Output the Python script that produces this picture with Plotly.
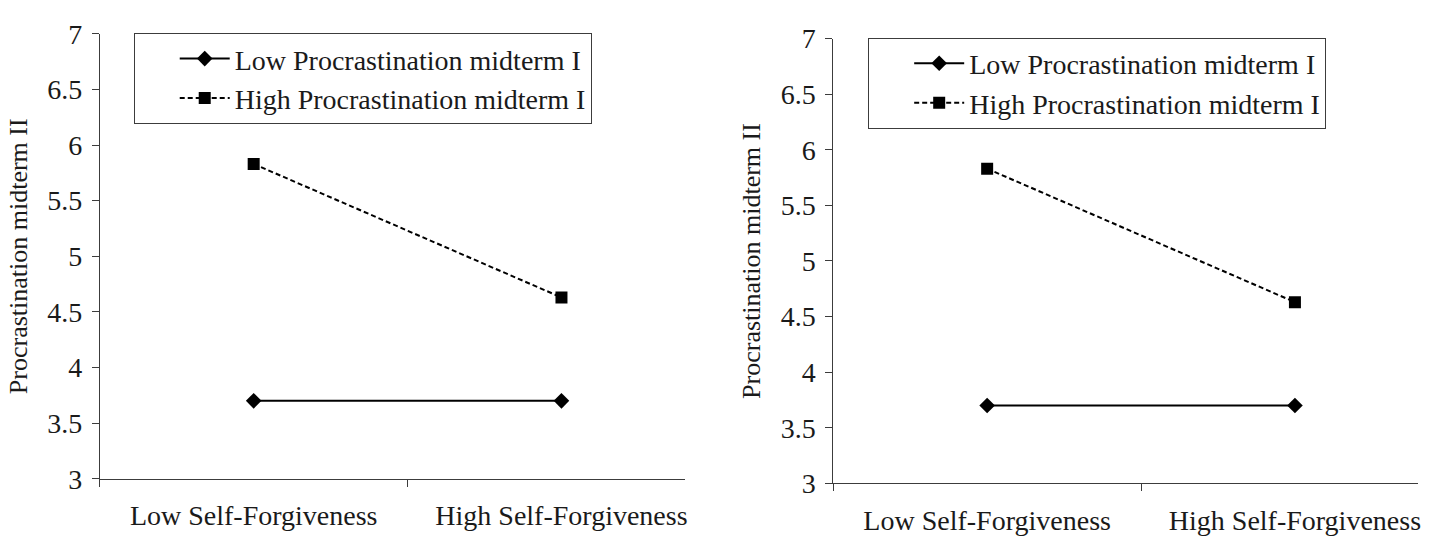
import plotly.graph_objects as go

# ---- data ----
categories = ["Low Self-Forgiveness", "High Self-Forgiveness"]
low_proc = [3.70, 3.70]
high_proc = [5.83, 4.63]
series_names = ["Low Procrastination midterm I", "High Procrastination midterm I"]
y_tickvals = [3, 3.5, 4, 4.5, 5, 5.5, 6, 6.5, 7]
y_ticktext = ["3", "3.5", "4", "4.5", "5", "5.5", "6", "6.5", "7"]
y_title = "Procrastination midterm II"

W, H = 1439, 539
FONT = "Liberation Serif"
TXT = "#1a1a1a"
AX = "#3c3c3c"

fig = go.Figure()

panels = [
    dict(x="x", y="y", legend="legend"),
    dict(x="x2", y="y2", legend="legend2"),
]
for p in panels:
    fig.add_trace(go.Scatter(
        x=categories, y=low_proc, name=series_names[0], mode="lines+markers",
        xaxis=p["x"], yaxis=p["y"], legend=p["legend"],
        line=dict(color="black", width=2),
        marker=dict(symbol="diamond", size=12, color="black"),
    ))
    fig.add_trace(go.Scatter(
        x=categories, y=high_proc, name=series_names[1], mode="lines+markers",
        xaxis=p["x"], yaxis=p["y"], legend=p["legend"],
        line=dict(color="black", width=2, dash="5px,3px"),
        marker=dict(symbol="square", size=12, color="black"),
    ))

def px_x(a, b):
    return [a / W, b / W]

def px_y(top, bottom):
    return [1 - bottom / H, 1 - top / H]

xcommon = dict(
    type="category", range=[-0.5, 1.4], tickson="boundaries",
    ticks="outside", ticklen=7, tickcolor=AX, tickwidth=1,
    showline=True, linecolor=AX, linewidth=1,
    showgrid=False, zeroline=False, ticklabelstandoff=12,
    tickfont=dict(family=FONT, size=28, color=TXT),
)
ycommon = dict(
    range=[3, 7], tickvals=y_tickvals, ticktext=y_ticktext,
    ticks="outside", ticklen=7, tickcolor=AX, tickwidth=1,
    showline=True, linecolor=AX, linewidth=1,
    showgrid=False, zeroline=False, ticklabelstandoff=4,
    tickfont=dict(family=FONT, size=28, color=TXT),
    title=dict(text=y_title, font=dict(family=FONT, size=26, color=TXT), standoff=12),
)

legcommon = dict(
    xanchor="left", yanchor="top",
    bordercolor=AX, borderwidth=1, bgcolor="white",
    font=dict(family=FONT, size=28, color=TXT),
    indentation=40, itemwidth=50, tracegroupgap=0,
)

fig.update_layout(
    width=W, height=H,
    margin=dict(l=0, r=0, t=0, b=0),
    paper_bgcolor="white", plot_bgcolor="white",
    showlegend=True,
    xaxis=dict(domain=px_x(100, 686), anchor="y", **xcommon),
    yaxis=dict(domain=px_y(20, 492), anchor="x", **ycommon),
    xaxis2=dict(domain=px_x(835, 1421), anchor="y2", **xcommon),
    yaxis2=dict(domain=px_y(25, 497), anchor="x2", **ycommon),
    legend=dict(x=134 / W, y=1 - 19 / H, **legcommon),
    legend2=dict(x=870 / W, y=1 - 24 / H, **legcommon),
)

fig.write_html("out.html")
